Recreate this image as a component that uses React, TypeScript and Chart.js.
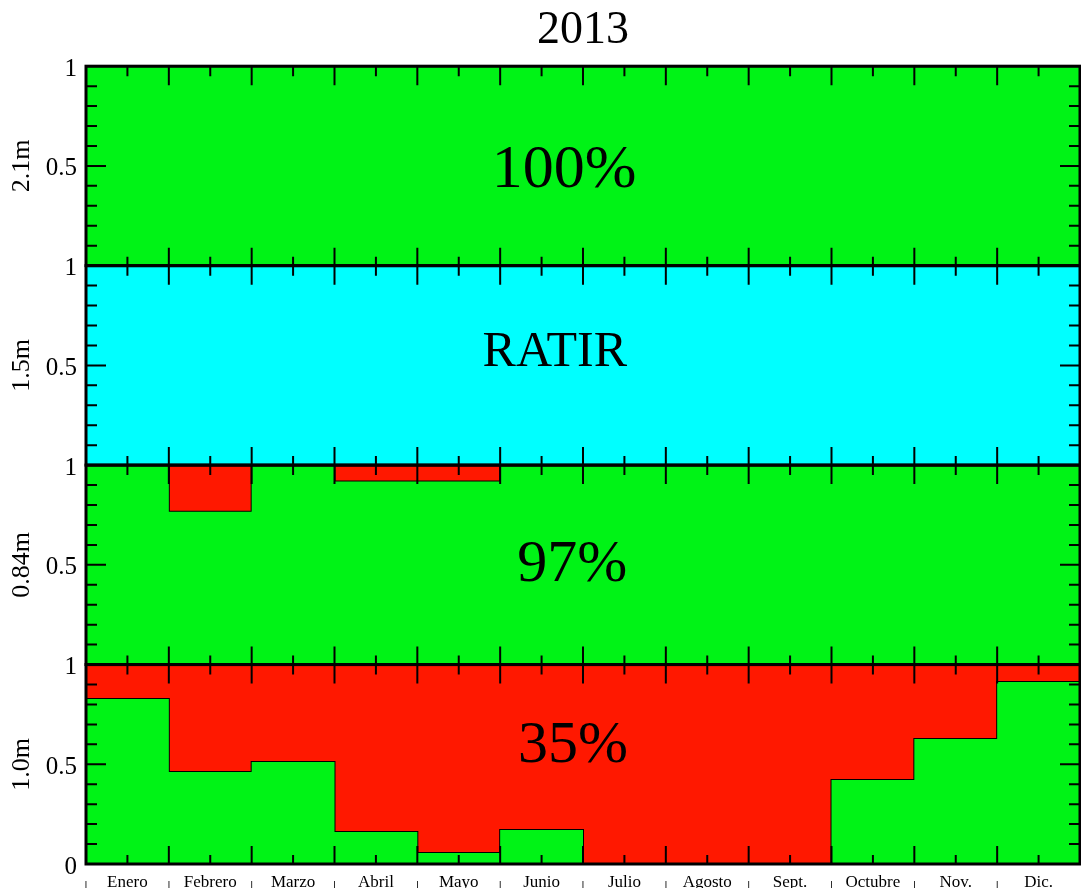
import React, { useEffect, useRef } from 'react';
import { Chart, registerables } from 'chart.js';

Chart.register(...registerables);

// ---- data ----
const months = ['Enero', 'Febrero', 'Marzo', 'Abril', 'Mayo', 'Junio', 'Julio', 'Agosto', 'Sept.', 'Octubre', 'Nov.', 'Dic.'];
const panelTitles = ['2.1m', '1.5m', '0.84m', '1.0m'];
const panelLabels = ['100%', 'RATIR', '97%', '35%'];
const frac21 = [1, 1, 1, 1, 1, 1, 1, 1, 1, 1, 1, 1];
const fracRatir = [1, 1, 1, 1, 1, 1, 1, 1, 1, 1, 1, 1];
const frac084 = [1, 0.766, 1, 0.918, 0.918, 1, 1, 1, 1, 1, 1, 1];
const frac10 = [0.827, 0.461, 0.511, 0.16, 0.055, 0.17, 0, 0, 0, 0.421, 0.627, 0.912];
const yTicksUpper = [0.5, 1];
const yTicksBottom = [0, 0.5, 1];

const FONT = "'Liberation Serif', 'Times New Roman', serif";
const GREEN = '#00f316';
const RED = '#ff1800';
const CYAN = '#00ffff';

const panelIds = ['y1', 'y2', 'y3', 'y4'];

const steps = (vals: number[]) => [
  ...vals.map((v, i) => ({ x: i, y: v })),
  { x: vals.length, y: vals[vals.length - 1] },
];

const decorPlugin = {
  id: 'panelDecor',
  afterDatasetsDraw(chart: any, _args: any, opts: any) {
    const ctx = chart.ctx;
    const xs = chart.scales.x;
    const { left, right } = chart.chartArea;
    ctx.save();
    panelIds.forEach((id, k) => {
      const ys = chart.scales[id];
      const top = ys.top;
      const bottom = ys.bottom;
      ctx.strokeStyle = '#000';
      ctx.lineWidth = 2;
      ctx.beginPath();
      for (let i = 1; i < months.length * 2; i++) {
        const m = i / 2;
        const px = xs.getPixelForValue(m);
        const major = i % 2 === 0;
        ctx.moveTo(px, top);
        ctx.lineTo(px, top + (major ? 19 : 10));
        ctx.moveTo(px, bottom);
        ctx.lineTo(px, bottom - (major ? 18 : 9));
      }
      for (let i = 1; i < 10; i++) {
        const py = ys.getPixelForValue(i / 10);
        const len = i === 5 ? 20 : 11;
        ctx.moveTo(left, py);
        ctx.lineTo(left + len, py);
        ctx.moveTo(right, py);
        ctx.lineTo(right - len, py);
      }
      ctx.stroke();
      ctx.lineWidth = 3;
      ctx.strokeRect(left, top, right - left, bottom - top);

      const pos = opts.positions[k];
      ctx.fillStyle = '#000';
      ctx.textAlign = 'center';
      ctx.textBaseline = 'middle';
      ctx.font = `${opts.sizes[k]}px ${FONT}`;
      ctx.fillText(panelLabels[k], xs.getPixelForValue(pos[0]), ys.getPixelForValue(pos[1]));
    });
    ctx.restore();
  },
};

function yScale(k: number) {
  return {
    type: 'linear',
    position: 'left',
    stack: 'panels',
    stackWeight: 1,
    min: 0,
    max: 1,
    offset: false,
    grid: { display: false, drawTicks: false },
    border: { display: false },
    afterBuildTicks: (s: any) => {
      s.ticks = (k === 3 ? yTicksBottom : yTicksUpper).map((v) => ({ value: v }));
    },
    afterFit: (s: any) => {
      s.width = 86;
    },
    ticks: {
      padding: 9,
      labelOffset: 3,
      color: '#000',
      font: { family: FONT, size: 25 },
      callback: (v: any) => String(v),
    },
    title: {
      display: true,
      text: panelTitles[k],
      color: '#000',
      font: { family: FONT, size: 26 },
      padding: { top: 7, bottom: 0 },
    },
  };
}

export default function App() {
  const ref = useRef<HTMLCanvasElement | null>(null);

  useEffect(() => {
    if (!ref.current) return;
    const tickVals: number[] = [];
    for (let i = 0; i < months.length * 2; i++) tickVals.push(i / 2);

    const common = { pointRadius: 0, pointHoverRadius: 0, stepped: 'before', borderColor: '#000' };

    const chart = new Chart(ref.current, {
      type: 'line',
      data: {
        datasets: [
          { ...common, data: steps(frac21), yAxisID: 'y1', fill: 'origin', backgroundColor: GREEN, borderWidth: 2 },
          { ...common, data: steps(fracRatir), yAxisID: 'y2', fill: 'origin', backgroundColor: CYAN, borderWidth: 2 },
          { ...common, data: steps(frac084), yAxisID: 'y3', fill: 'origin', backgroundColor: GREEN, borderWidth: 0 },
          { ...common, data: steps(frac084), yAxisID: 'y3', fill: 'end', backgroundColor: RED, borderWidth: 2 },
          { ...common, data: steps(frac10), yAxisID: 'y4', fill: 'origin', backgroundColor: GREEN, borderWidth: 0 },
          { ...common, data: steps(frac10), yAxisID: 'y4', fill: 'end', backgroundColor: RED, borderWidth: 2 },
        ] as any,
      },
      options: {
        responsive: false,
        animation: false,
        events: [],
        layout: { padding: { left: 0, right: 1, top: 0, bottom: 0 } },
        plugins: {
          legend: { display: false },
          tooltip: { enabled: false },
          title: {
            display: true,
            fullSize: false,
            text: '2013',
            color: '#000',
            font: { family: FONT, size: 46, weight: 'normal' },
            padding: { top: 3, bottom: 8 },
          },
          panelDecor: {
            positions: [[5.77, 0.475], [5.66, 0.565], [5.87, 0.5], [5.88, 0.59]],
            sizes: [62, 50, 60, 60],
          },
        } as any,
        scales: {
          x: {
            type: 'linear',
            position: 'bottom',
            min: 0,
            max: 12,
            grid: { display: false, drawTicks: false },
            border: { display: false },
            afterBuildTicks: (s: any) => {
              s.ticks = tickVals.map((v) => ({ value: v }));
            },
            afterFit: (s: any) => {
              s.height = 24;
            },
            ticks: {
              autoSkip: false,
              maxRotation: 0,
              minRotation: 0,
              padding: 8,
              color: '#000',
              font: (c: any) =>
                c.tick && Number.isInteger(c.tick.value)
                  ? { family: FONT, size: 17, lineHeight: 0.63 }
                  : { family: FONT, size: 17 },
              callback: (v: any) => (Number.isInteger(v) ? ['', '|'] : months[Math.floor(v)]),
            },
          },
          // stacked left axes are laid out top-down in reverse definition order
          y4: yScale(3),
          y3: yScale(2),
          y2: yScale(1),
          y1: yScale(0),
        } as any,
      },
      plugins: [decorPlugin],
    });
    return () => chart.destroy();
  }, []);

  return (
    <canvas
      ref={ref}
      width={1081}
      height={888}
      style={{ position: 'absolute', left: 0, top: 0, width: 1081, height: 888, display: 'block' }}
    />
  );
}
